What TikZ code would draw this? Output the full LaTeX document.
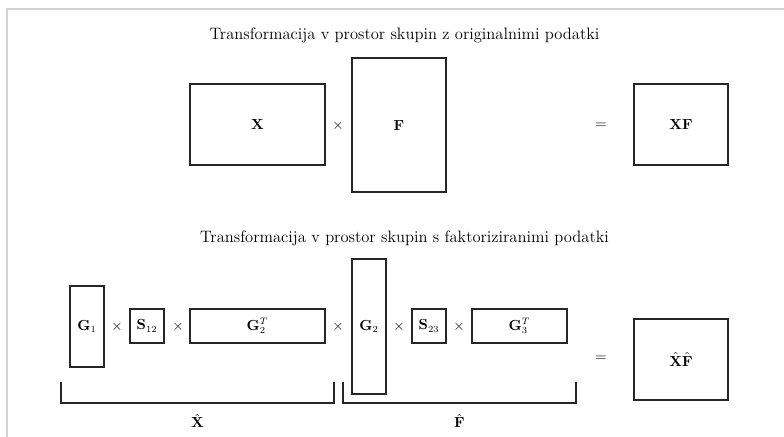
\documentclass[tikz,border=0pt]{standalone}
\usepackage{amsmath}
\begin{document}
\begin{tikzpicture}[x=0.75pt,y=-0.75pt,
  mat/.style={draw=black!85,line width=0.9pt,inner sep=0pt,font=\fontsize{10.5}{12}\selectfont},
  op/.style={inner sep=0pt,font=\fontsize{10.5}{12}\selectfont},
  ttl/.style={inner sep=0pt,font=\fontsize{12.4}{15}\selectfont},
  brace/.style={draw=black!85,line width=0.9pt},
  frame/.style={draw=black!18,line width=1.6pt}]
\useasboundingbox (0,0) rectangle (784,436);
\draw[frame] (7,440) -- (7,9) -- (790,9);
% top row
\node[ttl] (t1) at (404.5,35) {Transformacija v prostor skupin z originalnimi podatki};
\node[mat,minimum width=101.25pt,minimum height=60.75pt] (X) at (257.5,124.5) {$\mathbf{X}$};
\node[op] (m1) at (338,126) {$\times$};
\node[mat,minimum width=70.5pt,minimum height=100.5pt] (F) at (399,125) {$\mathbf{F}$};
\node[op] (e1) at (601,126) {$=$};
\node[mat,minimum width=70.5pt,minimum height=60.75pt] (XF) at (681,124.5) {$\mathbf{XF}$};
% bottom row
\node[ttl] (t2) at (404.5,238) {Transformacija v prostor skupin s faktoriziranimi podatki};
\node[mat,minimum width=25.5pt,minimum height=60.75pt] (G1) at (87,326.5) {$\mathbf{G}_1$};
\node[op] (m2) at (117,327) {$\times$};
\node[mat,minimum width=25.5pt,minimum height=25.5pt] (S12) at (147,326) {$\mathbf{S}_{12}$};
\node[op] (m3) at (178,327) {$\times$};
\node[mat,minimum width=101.25pt,minimum height=25.5pt] (G2T) at (257.5,326) {$\mathbf{G}_2^T$};
\node[op] (m4) at (338,327) {$\times$};
\node[mat,minimum width=25.5pt,minimum height=101.25pt] (G2) at (369,326.5) {$\mathbf{G}_2$};
\node[op] (m5) at (399,327) {$\times$};
\node[mat,minimum width=25.5pt,minimum height=25.5pt] (S23) at (429,326) {$\mathbf{S}_{23}$};
\node[op] (m6) at (459,327) {$\times$};
\node[mat,minimum width=71.25pt,minimum height=25.5pt] (G3T) at (519.5,326) {$\mathbf{G}_3^T$};
\node[op] (e2) at (601,359) {$=$};
\node[mat,minimum width=70.5pt,minimum height=60.75pt] (XFh) at (681,359.5) {$\hat{\mathbf{X}}\hat{\mathbf{F}}$};
% braces
\coordinate (bx1) at (61,382); \coordinate (bx2) at (334,382);
\coordinate (bf1) at (343,382); \coordinate (bf2) at (576,382);
\draw[brace] (bx1) -- ++(0,21) -| (bx2);
\draw[brace] (bf1) -- ++(0,21) -| (bf2);
\node[op] (Xh) at (197.5,421) {$\hat{\mathbf{X}}$};
\node[op] (Fh) at (459.5,421) {$\hat{\mathbf{F}}$};
\end{tikzpicture}
\end{document}
